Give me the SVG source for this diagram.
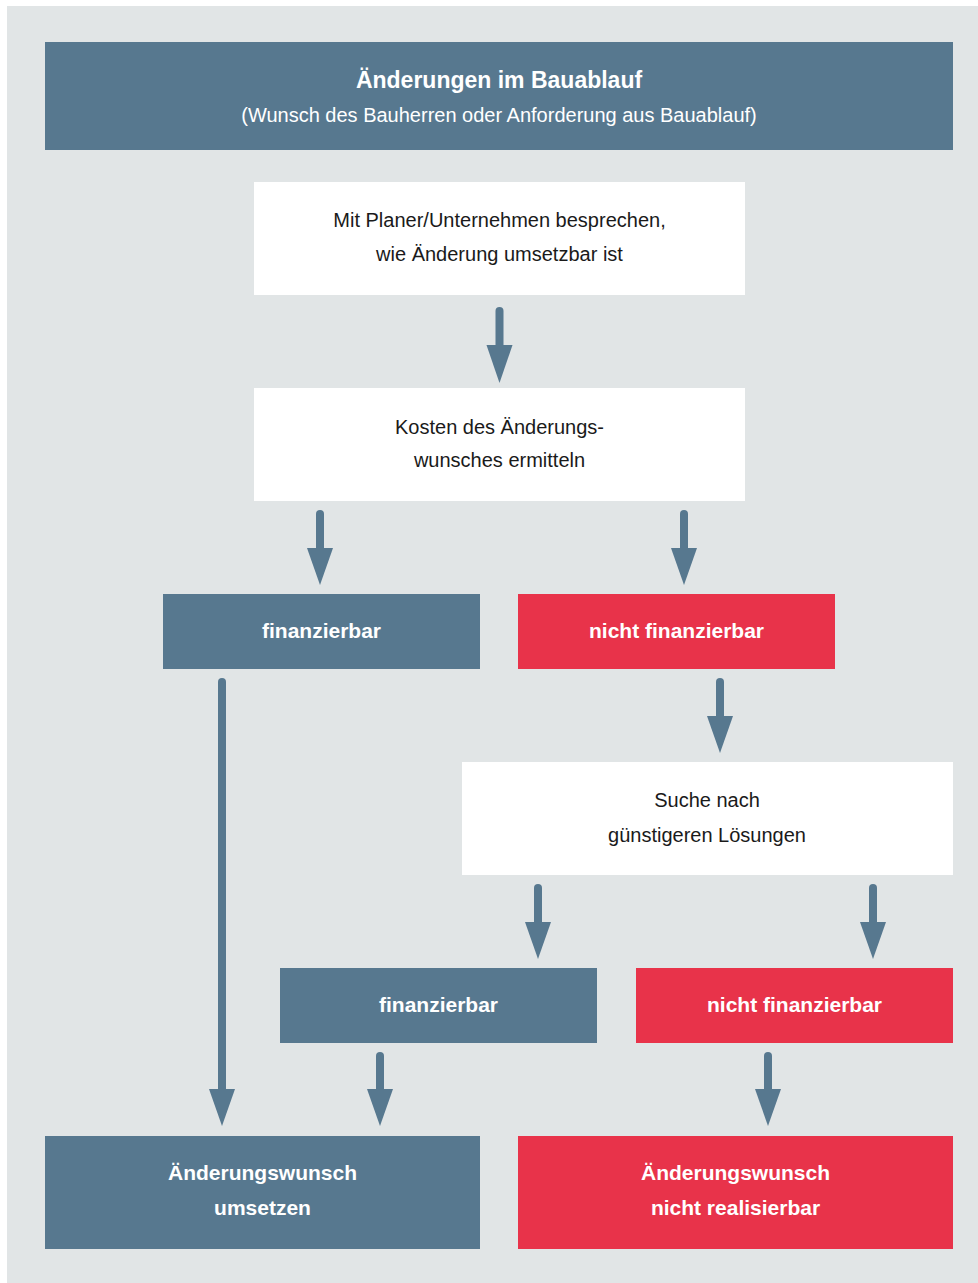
<svg xmlns="http://www.w3.org/2000/svg" width="978" height="1283" viewBox="0 0 978 1283">
<style>
.bg{fill:#e1e5e6}
.blue{fill:#57788f}
.red{fill:#e8334a}
.white{fill:#ffffff}
text{font-family:"Liberation Sans","Noto Sans",sans-serif;text-anchor:middle}
.t{font-size:20px;fill:#1a1a1a}
.tw{font-size:20px;fill:#ffffff}
.b{font-size:21px;font-weight:bold;fill:#ffffff}
.shaft{stroke:#57788f;stroke-width:8;stroke-linecap:round;fill:none}
.head{fill:#57788f}
</style>
<rect x="0" y="0" width="978" height="1283" fill="#ffffff"/>
<rect class="bg" x="7" y="6" width="971" height="1277"/>
<g id="header">
<rect class="blue" x="45" y="42" width="908" height="108"/>
<text class="b" x="499" y="88" style="font-size:23px">Änderungen im Bauablauf</text>
<text class="tw" x="499" y="122">(Wunsch des Bauherren oder Anforderung aus Bauablauf)</text>
</g>
<g id="besprechen">
<rect class="white" x="254" y="182" width="491" height="113"/>
<text class="t" x="499.5" y="227">Mit Planer/Unternehmen besprechen,</text>
<text class="t" x="499.5" y="261">wie Änderung umsetzbar ist</text>
</g>
<g id="kosten">
<rect class="white" x="254" y="388" width="491" height="113"/>
<text class="t" x="499.5" y="434">Kosten des Änderungs-</text>
<text class="t" x="499.5" y="467">wunsches ermitteln</text>
</g>
<g id="finanzierbar1">
<rect class="blue" x="163" y="594" width="317" height="75"/>
<text class="b" x="321.5" y="638">finanzierbar</text>
</g>
<g id="nichtfinanzierbar1">
<rect class="red" x="518" y="594" width="317" height="75"/>
<text class="b" x="676.5" y="638">nicht finanzierbar</text>
</g>
<g id="suche">
<rect class="white" x="462" y="762" width="491" height="113"/>
<text class="t" x="707" y="807">Suche nach</text>
<text class="t" x="707" y="842">günstigeren Lösungen</text>
</g>
<g id="finanzierbar2">
<rect class="blue" x="280" y="968" width="317" height="75"/>
<text class="b" x="438.5" y="1012">finanzierbar</text>
</g>
<g id="nichtfinanzierbar2">
<rect class="red" x="636" y="968" width="317" height="75"/>
<text class="b" x="794.5" y="1012">nicht finanzierbar</text>
</g>
<g id="umsetzen">
<rect class="blue" x="45" y="1136" width="435" height="113"/>
<text class="b" x="262.5" y="1180">Änderungswunsch</text>
<text class="b" x="262.5" y="1215">umsetzen</text>
</g>
<g id="nichtrealisierbar">
<rect class="red" x="518" y="1136" width="435" height="113"/>
<text class="b" x="735.5" y="1180">Änderungswunsch</text>
<text class="b" x="735.5" y="1215">nicht realisierbar</text>
</g>
<g id="connectors">
<path class="shaft" d="M499.5 311V346"/><polygon class="head" points="486.5,345 512.5,345 499.5,383"/>
<path class="shaft" d="M320 514V549"/><polygon class="head" points="307,548 333,548 320,585"/>
<path class="shaft" d="M684 514V549"/><polygon class="head" points="671,548 697,548 684,585"/>
<path class="shaft" d="M720 682V717"/><polygon class="head" points="707,716 733,716 720,753"/>
<path class="shaft" d="M538 888V923"/><polygon class="head" points="525,922 551,922 538,959"/>
<path class="shaft" d="M873 888V923"/><polygon class="head" points="860,922 886,922 873,959"/>
<path class="shaft" d="M222 682V1090"/><polygon class="head" points="209,1089 235,1089 222,1126"/>
<path class="shaft" d="M380 1056V1090"/><polygon class="head" points="367,1089 393,1089 380,1126"/>
<path class="shaft" d="M768 1056V1090"/><polygon class="head" points="755,1089 781,1089 768,1126"/>
</g>
</svg>
